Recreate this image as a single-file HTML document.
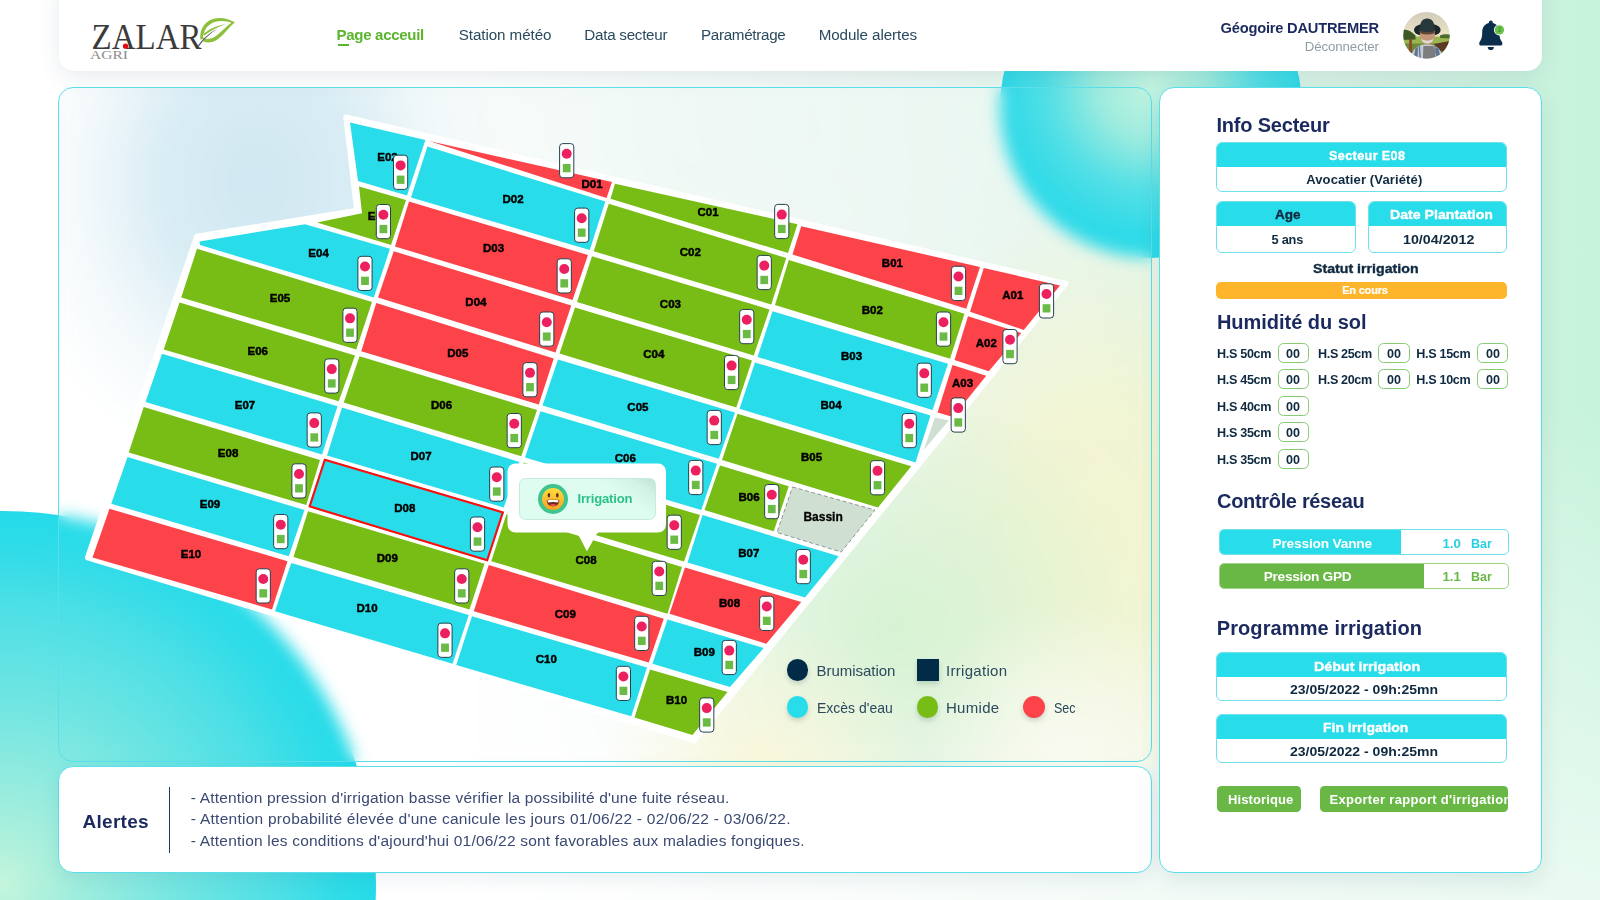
<!DOCTYPE html>
<html lang="fr"><head>
<meta charset="utf-8">
<title>Zalar Agri</title>
<style>
*{box-sizing:border-box;margin:0;padding:0}
html,body{width:1600px;height:900px;overflow:hidden}
body{position:relative;font-family:"Liberation Sans",sans-serif;color:#0f2a40;
 background:linear-gradient(to bottom,rgba(255,255,255,0) 0%,rgba(255,255,255,0) 45%,rgba(255,255,255,.62) 100%),linear-gradient(90deg,#ffffff 0%,#ffffff 28%,#f0f8f4 53%,#d6f3e3 87%,#c6f3dc 100%)}
.abs{position:absolute}
.blob{position:absolute;border-radius:50%}
.b1{left:-370px;top:511.3px;width:746px;height:746px;background:radial-gradient(circle 373px at 50% 50%,#c4f5dc 0%,#aef0dc 11%,#70e5e2 49%,#4adfe6 76%,#2fdce8 90%,#25dbe9 100%)}
.b2{left:1000px;top:-44px;width:302px;height:302px;background:radial-gradient(circle 152px at 50.7% 42.7%,#c4f4e1 0%,#a0ecde 35%,#52dfe6 70%,#2edae8 100%)}
.header{left:58.6px;top:-20px;width:1483.4px;height:90.7px;background:#fff;border-radius:0 0 15px 15px;box-shadow:0 6px 22px rgba(30,70,100,.10)}
.nav{position:absolute;top:26px;font-size:15.2px;color:#2b4a5e;white-space:nowrap;line-height:18px}
.nav.on{color:#5ab52f;font-weight:bold}
.panel{border:1.2px solid #5adfea;border-radius:15px}
.tint{left:58.3px;top:86.9px;width:1101px;height:680px;border-radius:15px 0 0 15px;
 background:
  radial-gradient(ellipse 250px 300px at 200px 95px,rgba(207,231,241,.96) 0%,rgba(211,234,243,.88) 38%,rgba(232,243,247,.45) 72%,rgba(255,255,255,0) 100%),
  radial-gradient(circle 150px at 1010px 665px,rgba(250,250,241,.95) 0%,rgba(250,250,241,.5) 50%,rgba(250,250,241,0) 100%),
  radial-gradient(circle 160px at 705px 690px,rgba(249,246,216,.95) 0%,rgba(249,246,216,.5) 50%,rgba(249,246,216,0) 100%),
  radial-gradient(circle 250px at 839px 540px,rgba(213,241,209,.97) 0%,rgba(213,241,209,.6) 45%,rgba(213,241,209,0) 100%),
  radial-gradient(ellipse 240px 340px at 1045px 450px,rgba(243,244,207,.97) 0%,rgba(243,244,207,.82) 40%,rgba(243,244,207,.4) 70%,rgba(243,244,207,0) 100%),
  radial-gradient(ellipse 560px 300px at 720px 40px,rgba(236,247,243,.75) 0%,rgba(236,247,243,0) 100%)}
.mappanel{left:58.3px;top:86.9px;width:1093.9px;height:675px;background:rgba(255,255,255,0);
 -webkit-backdrop-filter:blur(8px);backdrop-filter:blur(8px)}
.map{position:absolute;left:0;top:0}
.alerts{left:58.3px;top:766.2px;width:1093.9px;height:107.2px;background:#fff;box-shadow:0 6px 18px rgba(30,70,100,.08)}
.side{left:1158.8px;top:86.9px;width:383.2px;height:786.5px;background:#fff;box-shadow:0 8px 22px rgba(30,70,100,.10)}
h2{position:absolute;left:1217px;font-size:19.6px;font-weight:bold;color:#1b2a5e;line-height:24px;white-space:nowrap}
.box{position:absolute;border:1px solid #6fe1ec;border-radius:6px;background:#fff;overflow:hidden}
.box .hd{background:#29dcea;height:23.9px}
.box .bd{color:#0f2a40;font-weight:bold;text-align:center;font-size:12.6px;line-height:24px}
.hs{position:absolute;font-size:12.3px;font-weight:bold;color:#0f2a40;line-height:20px;white-space:nowrap}
.hv{position:absolute;width:31.5px;height:20px;border:1px solid #86cc72;border-radius:5.5px;text-align:center;font-size:12.3px;font-weight:bold;color:#0f2a40;line-height:18.5px}
.bar{position:absolute;left:1218.5px;width:290px;height:25.5px;border-radius:5px;overflow:hidden;background:#fff}
.bar i{position:absolute;left:0;top:0;bottom:0;display:block}
.bar b{position:absolute;top:0;line-height:25.5px;font-size:13.6px;white-space:nowrap}
.btn{position:absolute;top:786px;height:26px;background:#69b846;border-radius:4.5px;color:#fff;font-weight:bold;font-size:12.8px;line-height:26px;white-space:nowrap;overflow:hidden}
.t{position:absolute;white-space:pre;line-height:1;left:0;top:0}
.lg{position:absolute;font-size:15.2px;color:#2b4a5e;line-height:20px;white-space:nowrap}
.dot{position:absolute;width:21.8px;height:21.8px;border-radius:50%;box-shadow:0 3px 5px rgba(0,40,60,.17)}
</style>
</head>
<body>
<div class="abs tint"></div>
<div class="blob b1"></div>
<div class="blob b2"></div>

<!-- ================= HEADER ================= -->
<div class="abs header"></div>
<svg class="abs" style="left:80px;top:8px" width="170" height="60" viewBox="80 8 170 60">
 <text x="91.6" y="48.5" font-family="Liberation Serif, serif" font-size="36" fill="#3b3b3b" textLength="110" lengthAdjust="spacingAndGlyphs">ZALAR</text>
 <text x="90" y="58.7" font-family="Liberation Serif, serif" font-size="11.6" fill="#8d8d8d" textLength="38" lengthAdjust="spacingAndGlyphs">AGRI</text>
 <circle cx="125.5" cy="46.2" r="2.6" fill="#e30613"></circle>
 <path d="M200.3 39.6 C199.5 30.5 203.6 21.6 213.6 18.8 C221.5 16.6 229 19.2 234.9 22.2 C229.5 26.6 224.6 33.6 219 38.3 C213.6 42.8 207.6 43.2 203.2 41.5 L205 38.6 Z" fill="#8dc03a"></path>
 <path d="M203.7 33.8 C205.4 27.6 209.6 23.2 216.4 21.6 C222 20.4 227.4 21.3 231.4 22.7 C226.6 26 222 31.2 217 35.2 C212.6 38.8 208.2 39.4 204.8 38.8 C202.8 38.4 202.6 36 203.7 33.8 Z" fill="#fff"></path>
 <path d="M203 34.2 C209 29 217 25.4 226 24.2 C218 26.6 210.5 30.6 204.6 35.6 Z" fill="#8dc03a"></path>
 <path d="M197.6 46.3 C202 39.6 209 32.600 218 28.500 C210 33.200 203.600 39.400 198.600 46.800 Z" fill="#555"></path>
</svg>
<div class="abs" style="left:338px;top:43.5px;width:11px;height:2px;background:#5ab52f"></div>
<!-- avatar -->
<svg class="abs" style="left:1403px;top:12.3px" width="47" height="47" viewBox="0 0 47 47">
 <defs><clipPath id="av"><circle cx="23.5" cy="23.4" r="23.3"></circle></clipPath>
 <linearGradient id="sky" x1="0" y1="0" x2="0" y2="1"><stop offset="0" stop-color="#cfc9b9"></stop><stop offset=".55" stop-color="#efe6c8"></stop><stop offset="1" stop-color="#f6edcb"></stop></linearGradient>
 <filter id="sf" x="-10%" y="-10%" width="120%" height="120%"><feGaussianBlur stdDeviation=".55"></feGaussianBlur></filter></defs>
 <g clip-path="url(#av)"><g filter="url(#sf)">
  <rect x="-2" y="-2" width="51" height="51" fill="url(#sky)"></rect>
  <rect x="-2" y="24.500" width="51" height="9" fill="#9ab651"></rect>
  <rect x="-2" y="31.500" width="51" height="18" fill="#6d8a3a"></rect>
  <path d="M-2 18 C3 16.500 8 19 12.500 23.500 L12.500 27.500 L-2 28Z" fill="#3d5a27"></path>
  <path d="M37 23.500 C41 21.500 45 22 49 23 L49 26.500 L37 26Z" fill="#4b6a2e"></path>
  <path d="M31 32 L49 28.500 L49 40 L37 39Z" fill="#5c3a25"></path>
  <rect x="6.200" y="27" width="2.700" height="16" fill="#8a4a2c"></rect>
  <path d="M7 49 C8 38 14 32.200 24 32.200 C34 32.200 39.500 38 40.500 49Z" fill="#c3ccd6"></path>
  <path d="M10 49 L12.500 36 L15 35 L14.500 49Z M33.500 49 L32.500 35 L35.500 36.500 L38.500 49Z M17 33.500 L18 49 L16.600 49 L15.600 34Z M31.500 33.500 L30.500 49 L32 49 L33 34Z" fill="#62758c"></path>
  <path d="M19.800 49 L20.400 34 L30.800 34 L31.400 49Z" fill="#7d7d7d"></path>
  <ellipse cx="24.300" cy="17.900" rx="13.300" ry="6.600" fill="#1d2829"></ellipse>
  <path d="M16.800 18 C16.800 30 20 32.500 24.400 32.500 C28.800 32.500 32 30 32 18Z" fill="#c39878"></path>
  <path d="M17.200 18 h14.400 v3.200 c-4 1.600 -10.400 1.600 -14.400 0z" fill="#5f4536"></path>
  <path d="M18.300 26.500 C19 33 29.800 33 30.500 26.500 C28.500 29.300 20.300 29.300 18.300 26.500Z" fill="#e2dbd3"></path>
  <path d="M21.500 27.600 c1.800 .8 4 .8 5.800 0 c-.6 .9 -5.200 .9 -5.800 0z" fill="#8c5a48"></path>
  <path d="M16.600 19 C16.600 10 19.500 6.600 24.200 6.600 C28.900 6.600 31.800 10 31.800 19 C27 20.300 21.400 20.300 16.600 19Z" fill="#26373a"></path>
 </g></g>
</svg>
<!-- bell -->
<svg class="abs" style="left:1476px;top:18px" width="32" height="36" viewBox="1476 18 32 36">
 <path d="M1490.8 20.6 a2 2 0 0 1 2 2 v0.5 c4.2 1 6.6 4.6 6.6 9.2 c0 5.2 1 7.6 2.6 9.6 c0.7 0.9 0.4 3.6 -1.2 3.6 h-20 c-1.6 0 -1.9 -2.7 -1.2 -3.6 c1.6 -2 2.6 -4.4 2.6 -9.6 c0 -4.600 2.4 -8.2 6.600 -9.2 v-0.5 a2 2 0 0 1 2 -2z" fill="#0a2e4b"></path>
 <path d="M1487.700 47 h6.200 a3.100 3.100 0 0 1 -6.200 0z" fill="#0a2e4b"></path>
 <circle cx="1499.400" cy="29.900" r="5.500" fill="#fff"></circle>
 <circle cx="1499.400" cy="29.900" r="4.700" fill="#6cc24a"></circle>
 <text x="1499.400" y="32.300" font-size="6.500" font-family="Liberation Sans, sans-serif" fill="#3f9a3a" text-anchor="middle" font-weight="bold">3</text>
</svg>

<!-- ================= MAP PANEL ================= -->
<div class="abs panel mappanel"></div>
<svg class="map" width="1600" height="900" viewBox="0 0 1600 900">
<polygon points="345.853,117.07 1065.89,283.481 694.435,740.658 87.5479,557.696 196.706,236.425 356.767,210.333" fill="#fff" stroke="#fff" stroke-width="5.2" stroke-linejoin="round"></polygon>
<polygon points="350,122.4 425.4,140 407,195.6 358,181" fill="#29dcea"></polygon>
<polygon points="359,186.5 406,200 391,245 317,222.5 362,213.2" fill="#78bc16"></polygon>
<polygon points="199.5,241.5 305,224.3 390,248.75 373.75,297.5 200,245" fill="#29dcea"></polygon>
<polygon points="197,248.75 372,302 356.25,349.5 181.25,297.5" fill="#78bc16"></polygon>
<polygon points="179.5,302.5 355,355.5 338.75,401.25 163.75,349.5" fill="#78bc16"></polygon>
<polygon points="162,353.75 337.5,406.25 322,454.5 145.5,402" fill="#29dcea"></polygon>
<polygon points="143.75,407 320,460 306.25,505 128.75,452.5" fill="#78bc16"></polygon>
<polygon points="127.5,457 304.5,510 288.75,556.25 111.25,503.75" fill="#29dcea"></polygon>
<polygon points="109.5,508.75 287.5,561.25 272,609.5 92.5,557.5" fill="#fc4349"></polygon>
<polygon points="429,141 612,182 606.5,198" fill="#fc4349"></polygon>
<polygon points="427.4,146.4 605.3,201.6 589.75,250 411,197.4" fill="#29dcea"></polygon>
<polygon points="409,201.5 588,255 572.5,300 395,246.5" fill="#fc4349"></polygon>
<polygon points="393.75,251.25 571.25,305.5 555.5,352.5 378,297.5" fill="#fc4349"></polygon>
<polygon points="376.25,303 553.75,358.5 538.75,404.5 361.25,351.25" fill="#fc4349"></polygon>
<polygon points="359.5,356.25 537,410 521.25,456.25 343.75,402.5" fill="#78bc16"></polygon>
<polygon points="342,407.5 519.5,462 503.75,507.5 327,455.5" fill="#29dcea"></polygon>
<polygon points="324.154,458.394 504.151,511.633 487.841,561.614 308.355,507.109" fill="#29dcea" stroke="#ff0d0d" stroke-width="4.2" clip-path="url(#d8)"></polygon>
<polygon points="308,511.25 484.5,563.75 469.5,609.5 293.5,557" fill="#78bc16"></polygon>
<polygon points="291.25,563 468.75,615 452.5,663.75 275,611.25" fill="#29dcea"></polygon>
<polygon points="615,183.75 797.5,224.25 788,253 610.5,198.75" fill="#78bc16"></polygon>
<polygon points="608.75,203.75 786.25,258 771.25,304.5 593.75,251.25" fill="#78bc16"></polygon>
<polygon points="592,256.25 769.5,309.5 753.75,355.5 577,302" fill="#78bc16"></polygon>
<polygon points="575,307.5 752,360.5 736.25,407.5 559.5,353.5" fill="#78bc16"></polygon>
<polygon points="558,359.5 735,412.5 718.75,458.75 542.5,405.5" fill="#29dcea"></polygon>
<polygon points="540.5,411.25 717,463.75 701.25,510 525,457.5" fill="#29dcea"></polygon>
<polygon points="523.75,462.5 700,515 684,561.5 508.5,509" fill="#78bc16"></polygon>
<polygon points="506.5,514 682,567 667.5,613.75 491.25,561.25" fill="#78bc16"></polygon>
<polygon points="488.75,565 663.75,618.75 648.75,662.5 473.75,611.25" fill="#fc4349"></polygon>
<polygon points="472,616.25 647,667.5 631.25,716.25 456.25,665" fill="#29dcea"></polygon>
<polygon points="801.25,226.25 980,267 966.25,308.75 792.5,254.5" fill="#fc4349"></polygon>
<polygon points="788.75,260 964.5,313.75 950,358.75 775,305" fill="#78bc16"></polygon>
<polygon points="772.5,311.25 948,363.75 932.5,410 757.5,357" fill="#29dcea"></polygon>
<polygon points="755,362.5 930.5,415.5 915.5,462.5 739.5,408.75" fill="#29dcea"></polygon>
<polygon points="737.5,413.75 911.25,466.25 878,507.5 722,460" fill="#78bc16"></polygon>
<polygon points="720,465.5 788.75,486.25 773.75,531.25 704.5,510" fill="#78bc16"></polygon>
<polygon points="702.5,515 838.75,556.25 805,597.5 687.5,562.5" fill="#29dcea"></polygon>
<polygon points="685,567.5 801.25,602 766.25,643.75 669.5,613.75" fill="#fc4349"></polygon>
<polygon points="667.5,619.5 763.75,648 730,687 652.5,663.75" fill="#29dcea"></polygon>
<polygon points="650,669.5 727.5,692 692.5,735 634.5,717.5" fill="#78bc16"></polygon>
<polygon points="983.75,268 1060,285.5 1023.75,330 970,311.75" fill="#fc4349"></polygon>
<polygon points="968,316.25 1021.25,333 988.75,371.25 954.5,360" fill="#fc4349"></polygon>
<polygon points="952.5,365 986.25,375.75 953,417 937.5,412.5" fill="#fc4349"></polygon>
<polygon points="935,417.5 948.75,420.5 923.75,450" fill="#cfe0d3"></polygon>
<polygon points="792.5,487 875,510 841.25,552 777,532.5" fill="#cfe0d3" stroke="#8c9a92" stroke-width="1" stroke-dasharray="4 2.5"></polygon>
<g font-family="Liberation Sans, sans-serif" font-weight="bold" font-size="11.5" fill="#000" stroke="#000" stroke-width="0.45" stroke-linejoin="round" text-anchor="middle">
<text x="387.5" y="160.55">E02</text>
<text x="378" y="220.05">E03</text>
<text x="318.6" y="257.15">E04</text>
<text x="280" y="302.15">E05</text>
<text x="257.75" y="354.65">E06</text>
<text x="245" y="408.8">E07</text>
<text x="228.1" y="457.45">E08</text>
<text x="210" y="507.8">E09</text>
<text x="191" y="557.8">E10</text>
<text x="592" y="188.25">D01</text>
<text x="513" y="203.35">D02</text>
<text x="493.5" y="251.85">D03</text>
<text x="475.9" y="305.95">D04</text>
<text x="457.75" y="356.55">D05</text>
<text x="441.5" y="409.05">D06</text>
<text x="421" y="459.95">D07</text>
<text x="404.75" y="511.55">D08</text>
<text x="387.25" y="562.45">D09</text>
<text x="367.1" y="611.55">D10</text>
<text x="708.1" y="216.3">C01</text>
<text x="690.25" y="256.3">C02</text>
<text x="670.4" y="307.8">C03</text>
<text x="653.75" y="358.05">C04</text>
<text x="637.9" y="410.55">C05</text>
<text x="625.25" y="462.45">C06</text>
<text x="586" y="564.45">C08</text>
<text x="565.25" y="617.8">C09</text>
<text x="546.25" y="663.15">C10</text>
<text x="892.4" y="266.95">B01</text>
<text x="872.25" y="314.45">B02</text>
<text x="851.5" y="360.3">B03</text>
<text x="831" y="409.45">B04</text>
<text x="811.5" y="460.55">B05</text>
<text x="749" y="501.3">B06</text>
<text x="748.75" y="557.45">B07</text>
<text x="729.5" y="606.95">B08</text>
<text x="704.25" y="656.15">B09</text>
<text x="676.6" y="703.65">B10</text>
<text x="1012.75" y="298.65">A01</text>
<text x="986.25" y="346.95">A02</text>
<text x="962.5" y="386.95">A03</text>
<text x="823.1" y="521.2" font-size="12" stroke-width="0.3">Bassin</text>
</g>
<defs><g id="s"><rect x="-7.1" y="-17.1" width="14.2" height="34.2" rx="3.2" fill="#fff" stroke="#27424f" stroke-width="1"></rect><circle cx="0" cy="-6.9" r="5" fill="#ec1f5f"></circle><rect x="-3.9" y="3.3" width="7.8" height="8.3" fill="#6abb45"></rect></g><clipPath id="d8"><polygon points="324.154,458.394 504.151,511.633 487.841,561.614 308.355,507.109"></polygon></clipPath></defs>
<use href="#s" x="400.6" y="172.3"></use>
<use href="#s" x="566.7" y="160.7"></use>
<use href="#s" x="383.4" y="221.6"></use>
<use href="#s" x="581.7" y="225.2"></use>
<use href="#s" x="781.75" y="221.5"></use>
<use href="#s" x="365" y="273.4"></use>
<use href="#s" x="564.25" y="275.9"></use>
<use href="#s" x="764.25" y="272.5"></use>
<use href="#s" x="958.5" y="283.4"></use>
<use href="#s" x="1046.5" y="300.9"></use>
<use href="#s" x="350" y="325.25"></use>
<use href="#s" x="546.75" y="329.1"></use>
<use href="#s" x="746.75" y="326.6"></use>
<use href="#s" x="943.5" y="329.1"></use>
<use href="#s" x="1010" y="346.6"></use>
<use href="#s" x="331.75" y="376"></use>
<use href="#s" x="530" y="379.75"></use>
<use href="#s" x="731.6" y="372.5"></use>
<use href="#s" x="924.25" y="380.25"></use>
<use href="#s" x="958.25" y="415"></use>
<use href="#s" x="314.25" y="430"></use>
<use href="#s" x="514.25" y="430.6"></use>
<use href="#s" x="714.25" y="427.5"></use>
<use href="#s" x="909.25" y="430.6"></use>
<use href="#s" x="299" y="480.9"></use>
<use href="#s" x="496.75" y="484.1"></use>
<use href="#s" x="695.75" y="477.5"></use>
<use href="#s" x="877.5" y="477.75"></use>
<use href="#s" x="771.75" y="501.6"></use>
<use href="#s" x="280.75" y="531.6"></use>
<use href="#s" x="477.5" y="534.1"></use>
<use href="#s" x="674.25" y="532.25"></use>
<use href="#s" x="803.25" y="566.6"></use>
<use href="#s" x="263.25" y="585.9"></use>
<use href="#s" x="461.75" y="585.9"></use>
<use href="#s" x="659.25" y="578.4"></use>
<use href="#s" x="766.75" y="613.4"></use>
<use href="#s" x="445" y="640.25"></use>
<use href="#s" x="641.75" y="633.4"></use>
<use href="#s" x="729.25" y="657.5"></use>
<use href="#s" x="623.4" y="683.4"></use>
<use href="#s" x="706.75" y="715"></use>
</svg>

<!-- tooltip -->
<svg class="abs" style="left:490px;top:450px" width="200" height="115" viewBox="490 450 200 115">
 <path d="M515.500 463.500 h142.500 a8 8 0 0 1 8 8 v53 a8 8 0 0 1 -8 8 h-58.500 c-1.500 0 -2.200 .6 -2.800 1.700 l-9.800 17.100 l-8.900 -17.100 c-.6 -1.100 -1.300 -1.700 -2.800 -1.700 h-59.700 a8 8 0 0 1 -8 -8 v-53 a8 8 0 0 1 8 -8z" fill="#fff"></path>
</svg>
<div class="abs" style="left:519.100px;top:477.600px;width:136.600px;height:42.300px;border-radius:6.500px;border:1px solid #c6ebdb;background:linear-gradient(215deg,#bfe2d5 0%,#d2f3e5 13%,#defcf0 30%,#defcf0 100%)"></div>
<svg class="abs" style="left:536.100px;top:481.500px" width="34" height="34" viewBox="0 0 34 34">
 <defs><linearGradient id="sm" x1="0" y1="0" x2="0" y2="1"><stop offset="0" stop-color="#ffdc3e"></stop><stop offset="1" stop-color="#f8a322"></stop></linearGradient></defs>
 <circle cx="17" cy="17" r="15" fill="#3ec48c"></circle>
 <circle cx="17" cy="17" r="11" fill="url(#sm)"></circle>
 <ellipse cx="12.900" cy="13.300" rx="1.250" ry="2.300" fill="#5b2f14"></ellipse><ellipse cx="21.300" cy="13.300" rx="1.250" ry="2.300" fill="#5b2f14"></ellipse>
 <path d="M10.600 18.200 C12 17.600 22 17.600 23.400 18.200 C23 22.600 20.300 24.200 17 24.200 C13.700 24.200 11 22.600 10.600 18.200Z" fill="#6e2420"></path>
 <path d="M11.300 18.400 C13 18 21 18 22.700 18.400 C22.500 19.400 22.200 20 21.800 20.500 C19 19.800 15 19.800 12.200 20.500 C11.800 20 11.500 19.400 11.300 18.400Z" fill="#fff"></path>
 <path d="M13.400 22.800 C15.500 21.600 18.500 21.600 20.600 22.800 C19.500 23.800 18.300 24.200 17 24.200 C15.700 24.200 14.500 23.800 13.400 22.800Z" fill="#e8534a"></path>
</svg>

<!-- legend -->
<div class="dot" style="left:786.6px;top:658.8px;background:#022b47"></div>
<div class="abs" style="left:917.4px;top:658.6px;width:21.8px;height:22px;background:#022b47;box-shadow:0 3px 5px rgba(0,40,60,.17)"></div>
<div class="dot" style="left:786.6px;top:695.9px;background:#29dcea"></div>
<div class="dot" style="left:916.5px;top:695.9px;background:#78bc16"></div>
<div class="dot" style="left:1023.3px;top:695.9px;background:#fc4349"></div>

<!-- ================= ALERTS ================= -->
<div class="abs panel alerts"></div>
<div class="abs" style="left:168.600px;top:787px;width:1.800px;height:65.500px;background:#1c3d5a"></div>

<!-- ================= SIDE PANEL ================= -->
<div class="abs panel side"></div>
<div class="box" style="left:1216.4px;top:142.1px;width:290.6px;height:49.5px"><div class="hd"></div><div class="bd"></div></div>
<div class="box" style="left:1216.4px;top:200.8px;width:139.6px;height:52.6px"><div class="hd" style="color:#0f2a40;font-size:13.400px"></div><div class="bd" style="line-height:27px"></div></div>
<div class="box" style="left:1367.8px;top:200.8px;width:139.4px;height:52.6px"><div class="hd" style="font-size:13.200px;padding-left:8px"></div><div class="bd" style="line-height:27px"></div></div>
<div class="abs" style="left:1216px;top:282px;width:291px;height:17px;border-radius:5px;background:#fdb52b;color:#fff;font-weight:bold;font-size:10.600px;line-height:17px;text-align:center;padding-left:6px"></div>

<!--HS-->

<div class="bar" style="top:529px;border:1px solid #6fe1ec"><i style="width:181.4px;background:#29dcea"></i></div>
<div class="bar" style="top:563px;border:1px solid #9fd48a"><i style="width:204.6px;background:#69b846"></i></div>

<div class="box" style="left:1216.4px;top:652.2px;width:290.6px;height:49.2px"><div class="hd"></div><div class="bd"></div></div>
<div class="box" style="left:1216.4px;top:714.2px;width:290.6px;height:49.2px"><div class="hd"></div><div class="bd"></div></div>
<div class="btn" style="left:1217px;width:84px;padding-left:11px"></div>
<div class="btn" style="left:1320px;width:187.900px;padding-left:9.500px"></div>
<div class="hv" style="left:1277.5px;top:342.50px"></div>
<div class="hv" style="left:1378.25px;top:342.50px"></div>
<div class="hv" style="left:1476.75px;top:342.50px"></div>
<div class="hv" style="left:1277.5px;top:369.13px"></div>
<div class="hv" style="left:1378.25px;top:369.13px"></div>
<div class="hv" style="left:1476.75px;top:369.13px"></div>
<div class="hv" style="left:1277.5px;top:395.76px"></div>
<div class="hv" style="left:1277.5px;top:422.39px"></div>
<div class="hv" style="left:1277.5px;top:449.02px"></div>
<div class="t" style="font-size: 15px; font-weight: bold; color: rgb(90, 181, 47); top: 27px; left: 336.6px; letter-spacing: -0.302px;">Page acceuil</div>
<div class="t" style="font-size: 15.2px; font-weight: normal; color: rgb(43, 74, 94); top: 27px; left: 458.8px; letter-spacing: -0.089px;">Station météo</div>
<div class="t" style="font-size: 15.2px; font-weight: normal; color: rgb(43, 74, 94); top: 27px; left: 584.3px; letter-spacing: -0.259px;">Data secteur</div>
<div class="t" style="font-size: 15.2px; font-weight: normal; color: rgb(43, 74, 94); top: 27px; left: 700.9px; letter-spacing: -0.295px;">Paramétrage</div>
<div class="t" style="font-size: 15.2px; font-weight: normal; color: rgb(43, 74, 94); top: 27px; left: 818.7px; letter-spacing: -0.094px;">Module alertes</div>
<div class="t" style="font-size: 14.7px; font-weight: bold; color: rgb(27, 42, 94); top: 20.5px; left: 1220.5px; letter-spacing: -0.222px;">Géogoire DAUTREMER</div>
<div class="t" style="font-size: 13.3px; font-weight: normal; color: rgb(144, 156, 163); top: 39.9px; left: 1304.8px; letter-spacing: -0.126px;">Déconnecter</div>
<div class="t" style="font-size: 13.1px; font-weight: bold; color: rgb(47, 193, 138); top: 491.5px; left: 577.5px; letter-spacing: -0.194px;">Irrigation</div>
<div class="t" style="font-size: 15px; font-weight: normal; color: rgb(43, 74, 94); top: 662.7px; left: 816.5px; letter-spacing: -0.035px;">Brumisation</div>
<div class="t" style="font-size: 15px; font-weight: normal; color: rgb(43, 74, 94); top: 662.7px; left: 946px; letter-spacing: 0.304px;">Irrigation</div>
<div class="t" style="font-size: 15px; font-weight: normal; color: rgb(43, 74, 94); top: 699.5px; left: 816.57px; transform: scaleX(0.9324); transform-origin: 0px 0px;">Excès d'eau</div>
<div class="t" style="font-size: 15px; font-weight: normal; color: rgb(43, 74, 94); top: 699.5px; left: 946px; letter-spacing: 0.281px;">Humide</div>
<div class="t" style="font-size: 15px; font-weight: normal; color: rgb(43, 74, 94); top: 699.5px; left: 1053.75px; transform: scaleX(0.835); transform-origin: 0px 0px;">Sec</div>
<div class="t" style="font-size: 19px; font-weight: bold; color: rgb(27, 42, 94); top: 812px; left: 82.5px; letter-spacing: 0.274px;">Alertes</div>
<div class="t" style="font-size: 15.5px; font-weight: normal; color: rgb(59, 74, 114); top: 789.8px; left: 190.8px; letter-spacing: 0.169px;">- Attention pression d'irrigation basse vérifier la possibilité d'une fuite réseau.</div>
<div class="t" style="font-size: 15.5px; font-weight: normal; color: rgb(59, 74, 114); top: 811.4px; left: 190.8px; letter-spacing: 0.255px;">- Attention probabilité élevée d'une canicule les jours 01/06/22 - 02/06/22 - 03/06/22.</div>
<div class="t" style="font-size: 15.5px; font-weight: normal; color: rgb(59, 74, 114); top: 833px; left: 190.8px; letter-spacing: 0.201px;">- Attention les conditions d'ajourd'hui 01/06/22 sont favorables aux maladies fongiques.</div>
<div class="t" style="font-size: 20px; font-weight: bold; color: rgb(27, 42, 94); top: 114.5px; left: 1216.5px; letter-spacing: -0.208px;">Info Secteur</div>
<div class="t" style="font-size: 12.6px; font-weight: bold; color: rgb(255, 255, 255); -webkit-text-stroke: 0.35px currentcolor; top: 150.4px; left: 1329px; letter-spacing: 0.39px;">Secteur E08</div>
<div class="t" style="font-size: 13px; font-weight: bold; color: rgb(15, 42, 64); top: 173.2px; left: 1306.2px; letter-spacing: 0.13px;">Avocatier (Variété)</div>
<div class="t" style="font-size: 13px; font-weight: bold; color: rgb(15, 42, 64); -webkit-text-stroke: 0.35px currentcolor; top: 207.8px; left: 1274.7px; transform: scaleX(1.0399); transform-origin: 0px 0px;">Age</div>
<div class="t" style="font-size: 12.8px; font-weight: bold; color: rgb(15, 42, 64); top: 233.8px; left: 1271.5px; letter-spacing: -0.227px;">5 ans</div>
<div class="t" style="font-size: 12.6px; font-weight: bold; color: rgb(255, 255, 255); -webkit-text-stroke: 0.35px currentcolor; top: 208.8px; left: 1390.4px; transform: scaleX(1.1234); transform-origin: 0px 0px;">Date Plantation</div>
<div class="t" style="font-size: 12.8px; font-weight: bold; color: rgb(15, 42, 64); top: 233.8px; left: 1402.75px; transform: scaleX(1.1145); transform-origin: 0px 0px;">10/04/2012</div>
<div class="t" style="font-size: 12.8px; font-weight: bold; color: rgb(15, 42, 64); -webkit-text-stroke: 0.35px currentcolor; top: 263.1px; left: 1312.75px; transform: scaleX(1.1079); transform-origin: 0px 0px;">Statut irrigation</div>
<div class="t" style="font-size: 11px; font-weight: bold; color: rgb(255, 255, 255); -webkit-text-stroke: 0.2px currentcolor; top: 285.1px; left: 1342.2px; letter-spacing: -0.2px;">En cours</div>
<div class="t" style="font-size: 20px; font-weight: bold; color: rgb(27, 42, 94); top: 311.8px; left: 1216.9px; letter-spacing: -0.025px;">Humidité du sol</div>
<div class="t" style="font-size: 12.6px; font-weight: bold; color: rgb(15, 42, 64); top: 347.5px; left: 1217px; letter-spacing: -0.322px;">H.S 50cm</div>
<div class="t" style="font-size: 13px; font-weight: bold; color: rgb(15, 42, 64); top: 346.5px; left: 1286.25px; transform: scaleX(0.9663); transform-origin: 0px 0px;">00</div>
<div class="t" style="font-size: 12.6px; font-weight: bold; color: rgb(15, 42, 64); top: 347.5px; left: 1318px; letter-spacing: -0.358px;">H.S 25cm</div>
<div class="t" style="font-size: 13px; font-weight: bold; color: rgb(15, 42, 64); top: 346.5px; left: 1387px; transform: scaleX(0.9663); transform-origin: 0px 0px;">00</div>
<div class="t" style="font-size: 12.6px; font-weight: bold; color: rgb(15, 42, 64); top: 347.5px; left: 1416.25px; letter-spacing: -0.322px;">H.S 15cm</div>
<div class="t" style="font-size: 13px; font-weight: bold; color: rgb(15, 42, 64); top: 346.5px; left: 1485.5px; transform: scaleX(0.9663); transform-origin: 0px 0px;">00</div>
<div class="t" style="font-size: 12.6px; font-weight: bold; color: rgb(15, 42, 64); top: 374.13px; left: 1217px; letter-spacing: -0.322px;">H.S 45cm</div>
<div class="t" style="font-size: 13px; font-weight: bold; color: rgb(15, 42, 64); top: 373.13px; left: 1286.25px; transform: scaleX(0.9663); transform-origin: 0px 0px;">00</div>
<div class="t" style="font-size: 12.6px; font-weight: bold; color: rgb(15, 42, 64); top: 374.13px; left: 1318px; letter-spacing: -0.358px;">H.S 20cm</div>
<div class="t" style="font-size: 13px; font-weight: bold; color: rgb(15, 42, 64); top: 373.13px; left: 1387px; transform: scaleX(0.9663); transform-origin: 0px 0px;">00</div>
<div class="t" style="font-size: 12.6px; font-weight: bold; color: rgb(15, 42, 64); top: 374.13px; left: 1416.25px; letter-spacing: -0.322px;">H.S 10cm</div>
<div class="t" style="font-size: 13px; font-weight: bold; color: rgb(15, 42, 64); top: 373.13px; left: 1485.5px; transform: scaleX(0.9663); transform-origin: 0px 0px;">00</div>
<div class="t" style="font-size: 12.6px; font-weight: bold; color: rgb(15, 42, 64); top: 400.76px; left: 1217px; letter-spacing: -0.322px;">H.S 40cm</div>
<div class="t" style="font-size: 13px; font-weight: bold; color: rgb(15, 42, 64); top: 399.76px; left: 1286.25px; transform: scaleX(0.9663); transform-origin: 0px 0px;">00</div>
<div class="t" style="font-size: 12.6px; font-weight: bold; color: rgb(15, 42, 64); top: 427.39px; left: 1217px; letter-spacing: -0.322px;">H.S 35cm</div>
<div class="t" style="font-size: 13px; font-weight: bold; color: rgb(15, 42, 64); top: 426.39px; left: 1286.25px; transform: scaleX(0.9663); transform-origin: 0px 0px;">00</div>
<div class="t" style="font-size: 12.6px; font-weight: bold; color: rgb(15, 42, 64); top: 454.02px; left: 1217px; letter-spacing: -0.322px;">H.S 35cm</div>
<div class="t" style="font-size: 13px; font-weight: bold; color: rgb(15, 42, 64); top: 453.02px; left: 1286.25px; transform: scaleX(0.9663); transform-origin: 0px 0px;">00</div>
<div class="t" style="font-size: 20px; font-weight: bold; color: rgb(27, 42, 94); top: 491.3px; left: 1217.1px; letter-spacing: -0.332px;">Contrôle réseau</div>
<div class="t" style="font-size: 13.7px; font-weight: bold; color: rgb(255, 255, 255); top: 536.5px; left: 1272.5px; letter-spacing: -0.179px;">Pression Vanne</div>
<div class="t" style="font-size: 13.2px; font-weight: bold; color: rgb(41, 207, 224); top: 536.5px; left: 1442.5px; letter-spacing: 0.001px;">1.0</div>
<div class="t" style="font-size: 13.2px; font-weight: bold; color: rgb(41, 207, 224); top: 536.5px; left: 1470.5px; transform: scaleX(0.9493); transform-origin: 0px 0px;">Bar</div>
<div class="t" style="font-size: 13.7px; font-weight: bold; color: rgb(255, 255, 255); top: 570.25px; left: 1263.75px; letter-spacing: -0.309px;">Pression GPD</div>
<div class="t" style="font-size: 13.2px; font-weight: bold; color: rgb(105, 184, 70); top: 570.25px; left: 1442.5px; letter-spacing: 0.001px;">1.1</div>
<div class="t" style="font-size: 13.2px; font-weight: bold; color: rgb(105, 184, 70); top: 570.25px; left: 1470.5px; transform: scaleX(0.9493); transform-origin: 0px 0px;">Bar</div>
<div class="t" style="font-size: 20px; font-weight: bold; color: rgb(27, 42, 94); top: 617.5px; left: 1216.7px; letter-spacing: 0.102px;">Programme irrigation</div>
<div class="t" style="font-size: 12.6px; font-weight: bold; color: rgb(255, 255, 255); -webkit-text-stroke: 0.35px currentcolor; top: 660.6px; left: 1313.75px; transform: scaleX(1.1337); transform-origin: 0px 0px;">Début irrigation</div>
<div class="t" style="font-size: 13.2px; font-weight: bold; color: rgb(15, 42, 64); top: 683.25px; left: 1290px; transform: scaleX(1.063); transform-origin: 0px 0px;">23/05/2022 - 09h:25mn</div>
<div class="t" style="font-size: 12.6px; font-weight: bold; color: rgb(255, 255, 255); -webkit-text-stroke: 0.35px currentcolor; top: 722.4px; left: 1323px; transform: scaleX(1.108); transform-origin: 0px 0px;">Fin irrigation</div>
<div class="t" style="font-size: 13.2px; font-weight: bold; color: rgb(15, 42, 64); top: 744.75px; left: 1290px; transform: scaleX(1.063); transform-origin: 0px 0px;">23/05/2022 - 09h:25mn</div>
<div class="t" style="font-size: 13px; font-weight: bold; color: rgb(255, 255, 255); top: 793.25px; left: 1228px; letter-spacing: 0.105px;">Historique</div>
<div class="t" style="font-size: 13px; font-weight: bold; color: rgb(255, 255, 255); clip-path: inset(-5px 3.2px -5px -5px); top: 793.25px; left: 1329.5px; letter-spacing: 0.3px;">Exporter rapport d'irrigation</div>


</body></html>
